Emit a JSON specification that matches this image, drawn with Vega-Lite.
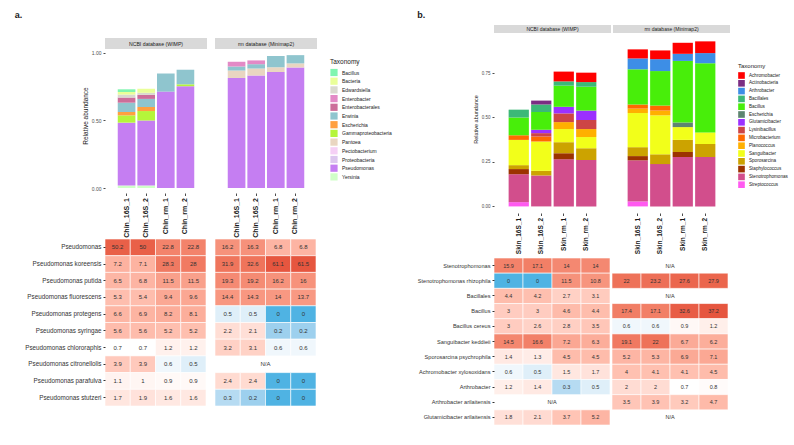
{
 "$schema": "https://vega.github.io/schema/vega-lite/v6.json",
 "padding": {"left": 14, "top": 11, "right": 5, "bottom": 5},
 "background": "white",
 "config": {"font": "Liberation Sans", "view": {"stroke": null}},
 "datasets": {
  "barsA": [
   {"db":"NCBI","sample":"Chin_16S_1","taxon":"Yersinia","value":0.018},
   {"db":"NCBI","sample":"Chin_16S_1","taxon":"Pseudomonas","value":0.466},
   {"db":"NCBI","sample":"Chin_16S_1","taxon":"Gammaproteobacteria","value":0.054},
   {"db":"NCBI","sample":"Chin_16S_1","taxon":"Escherichia","value":0.025},
   {"db":"NCBI","sample":"Chin_16S_1","taxon":"Erwinia","value":0.069},
   {"db":"NCBI","sample":"Chin_16S_1","taxon":"Enterobacterales","value":0.038},
   {"db":"NCBI","sample":"Chin_16S_1","taxon":"Edwardsiella","value":0.022},
   {"db":"NCBI","sample":"Chin_16S_1","taxon":"Bacteria","value":0.019},
   {"db":"NCBI","sample":"Chin_16S_1","taxon":"Bacillus","value":0.02},
   {"db":"NCBI","sample":"Chin_16S_2","taxon":"Yersinia","value":0.018},
   {"db":"NCBI","sample":"Chin_16S_2","taxon":"Pseudomonas","value":0.482},
   {"db":"NCBI","sample":"Chin_16S_2","taxon":"Gammaproteobacteria","value":0.07},
   {"db":"NCBI","sample":"Chin_16S_2","taxon":"Escherichia","value":0.03},
   {"db":"NCBI","sample":"Chin_16S_2","taxon":"Erwinia","value":0.06},
   {"db":"NCBI","sample":"Chin_16S_2","taxon":"Enterobacterales","value":0.03},
   {"db":"NCBI","sample":"Chin_16S_2","taxon":"Edwardsiella","value":0.015},
   {"db":"NCBI","sample":"Chin_16S_2","taxon":"Bacteria","value":0.03},
   {"db":"NCBI","sample":"Chin_rm_1","taxon":"Pseudomonas","value":0.714},
   {"db":"NCBI","sample":"Chin_rm_1","taxon":"Erwinia","value":0.134},
   {"db":"NCBI","sample":"Chin_rm_2","taxon":"Pseudomonas","value":0.754},
   {"db":"NCBI","sample":"Chin_rm_2","taxon":"Gammaproteobacteria","value":0.014},
   {"db":"NCBI","sample":"Chin_rm_2","taxon":"Erwinia","value":0.108},
   {"db":"rm","sample":"Chin_16S_1","taxon":"Pseudomonas","value":0.815},
   {"db":"rm","sample":"Chin_16S_1","taxon":"Pantoea","value":0.055},
   {"db":"rm","sample":"Chin_16S_1","taxon":"Erwinia","value":0.03},
   {"db":"rm","sample":"Chin_16S_1","taxon":"Enterobacter","value":0.035},
   {"db":"rm","sample":"Chin_16S_2","taxon":"Pseudomonas","value":0.833},
   {"db":"rm","sample":"Chin_16S_2","taxon":"Pantoea","value":0.052},
   {"db":"rm","sample":"Chin_16S_2","taxon":"Erwinia","value":0.032},
   {"db":"rm","sample":"Chin_16S_2","taxon":"Enterobacter","value":0.028},
   {"db":"rm","sample":"Chin_rm_1","taxon":"Pseudomonas","value":0.86},
   {"db":"rm","sample":"Chin_rm_1","taxon":"Pantoea","value":0.035},
   {"db":"rm","sample":"Chin_rm_1","taxon":"Erwinia","value":0.082},
   {"db":"rm","sample":"Chin_rm_2","taxon":"Pseudomonas","value":0.893},
   {"db":"rm","sample":"Chin_rm_2","taxon":"Pantoea","value":0.03},
   {"db":"rm","sample":"Chin_rm_2","taxon":"Erwinia","value":0.061}
  ],
  "barsB": [
   {"db":"NCBI","sample":"Skin_16S_1","taxon":"Streptococcus","value":0.024},
   {"db":"NCBI","sample":"Skin_16S_1","taxon":"Stenotrophomonas","value":0.157},
   {"db":"NCBI","sample":"Skin_16S_1","taxon":"Staphylococcus","value":0.029},
   {"db":"NCBI","sample":"Skin_16S_1","taxon":"Sporosarcina","value":0.022},
   {"db":"NCBI","sample":"Skin_16S_1","taxon":"Sanguibacter","value":0.142},
   {"db":"NCBI","sample":"Skin_16S_1","taxon":"Microbacterium","value":0.026},
   {"db":"NCBI","sample":"Skin_16S_1","taxon":"Bacillus","value":0.1},
   {"db":"NCBI","sample":"Skin_16S_1","taxon":"Bacillales","value":0.044},
   {"db":"NCBI","sample":"Skin_16S_2","taxon":"Stenotrophomonas","value":0.174},
   {"db":"NCBI","sample":"Skin_16S_2","taxon":"Sporosarcina","value":0.026},
   {"db":"NCBI","sample":"Skin_16S_2","taxon":"Sanguibacter","value":0.165},
   {"db":"NCBI","sample":"Skin_16S_2","taxon":"Microbacterium","value":0.028},
   {"db":"NCBI","sample":"Skin_16S_2","taxon":"Lysinibacillus","value":0.019},
   {"db":"NCBI","sample":"Skin_16S_2","taxon":"Glutamicibacter","value":0.019},
   {"db":"NCBI","sample":"Skin_16S_2","taxon":"Bacillus","value":0.1},
   {"db":"NCBI","sample":"Skin_16S_2","taxon":"Bacillales","value":0.042},
   {"db":"NCBI","sample":"Skin_16S_2","taxon":"Actinobacteria","value":0.022},
   {"db":"NCBI","sample":"Skin_rm_1","taxon":"Stenotrophomonas","value":0.265},
   {"db":"NCBI","sample":"Skin_rm_1","taxon":"Staphylococcus","value":0.034},
   {"db":"NCBI","sample":"Skin_rm_1","taxon":"Sporosarcina","value":0.062},
   {"db":"NCBI","sample":"Skin_rm_1","taxon":"Sanguibacter","value":0.074},
   {"db":"NCBI","sample":"Skin_rm_1","taxon":"Planococcus","value":0.039},
   {"db":"NCBI","sample":"Skin_rm_1","taxon":"Lysinibacillus","value":0.049},
   {"db":"NCBI","sample":"Skin_rm_1","taxon":"Glutamicibacter","value":0.037},
   {"db":"NCBI","sample":"Skin_rm_1","taxon":"Bacillus","value":0.119},
   {"db":"NCBI","sample":"Skin_rm_1","taxon":"Bacillales","value":0.024},
   {"db":"NCBI","sample":"Skin_rm_1","taxon":"Achromobacter","value":0.055},
   {"db":"NCBI","sample":"Skin_rm_2","taxon":"Stenotrophomonas","value":0.261},
   {"db":"NCBI","sample":"Skin_rm_2","taxon":"Sporosarcina","value":0.066},
   {"db":"NCBI","sample":"Skin_rm_2","taxon":"Sanguibacter","value":0.063},
   {"db":"NCBI","sample":"Skin_rm_2","taxon":"Planococcus","value":0.045},
   {"db":"NCBI","sample":"Skin_rm_2","taxon":"Lysinibacillus","value":0.051},
   {"db":"NCBI","sample":"Skin_rm_2","taxon":"Glutamicibacter","value":0.053},
   {"db":"NCBI","sample":"Skin_rm_2","taxon":"Bacillus","value":0.134},
   {"db":"NCBI","sample":"Skin_rm_2","taxon":"Bacillales","value":0.026},
   {"db":"NCBI","sample":"Skin_rm_2","taxon":"Achromobacter","value":0.053},
   {"db":"rm","sample":"Skin_16S_1","taxon":"Streptococcus","value":0.028},
   {"db":"rm","sample":"Skin_16S_1","taxon":"Stenotrophomonas","value":0.231},
   {"db":"rm","sample":"Skin_16S_1","taxon":"Staphylococcus","value":0.024},
   {"db":"rm","sample":"Skin_16S_1","taxon":"Sporosarcina","value":0.05},
   {"db":"rm","sample":"Skin_16S_1","taxon":"Sanguibacter","value":0.192},
   {"db":"rm","sample":"Skin_16S_1","taxon":"Planococcus","value":0.025},
   {"db":"rm","sample":"Skin_16S_1","taxon":"Microbacterium","value":0.023},
   {"db":"rm","sample":"Skin_16S_1","taxon":"Bacillus","value":0.198},
   {"db":"rm","sample":"Skin_16S_1","taxon":"Arthrobacter","value":0.061},
   {"db":"rm","sample":"Skin_16S_1","taxon":"Achromobacter","value":0.051},
   {"db":"rm","sample":"Skin_16S_2","taxon":"Stenotrophomonas","value":0.238},
   {"db":"rm","sample":"Skin_16S_2","taxon":"Sporosarcina","value":0.055},
   {"db":"rm","sample":"Skin_16S_2","taxon":"Sanguibacter","value":0.219},
   {"db":"rm","sample":"Skin_16S_2","taxon":"Planococcus","value":0.027},
   {"db":"rm","sample":"Skin_16S_2","taxon":"Microbacterium","value":0.028},
   {"db":"rm","sample":"Skin_16S_2","taxon":"Bacillus","value":0.194},
   {"db":"rm","sample":"Skin_16S_2","taxon":"Arthrobacter","value":0.067},
   {"db":"rm","sample":"Skin_16S_2","taxon":"Achromobacter","value":0.049},
   {"db":"rm","sample":"Skin_rm_1","taxon":"Stenotrophomonas","value":0.278},
   {"db":"rm","sample":"Skin_rm_1","taxon":"Staphylococcus","value":0.028},
   {"db":"rm","sample":"Skin_rm_1","taxon":"Sporosarcina","value":0.068},
   {"db":"rm","sample":"Skin_rm_1","taxon":"Sanguibacter","value":0.072},
   {"db":"rm","sample":"Skin_rm_1","taxon":"Escherichia","value":0.026},
   {"db":"rm","sample":"Skin_rm_1","taxon":"Bacillus","value":0.346},
   {"db":"rm","sample":"Skin_rm_1","taxon":"Arthrobacter","value":0.04},
   {"db":"rm","sample":"Skin_rm_1","taxon":"Achromobacter","value":0.062},
   {"db":"rm","sample":"Skin_rm_2","taxon":"Stenotrophomonas","value":0.278},
   {"db":"rm","sample":"Skin_rm_2","taxon":"Sporosarcina","value":0.073},
   {"db":"rm","sample":"Skin_rm_2","taxon":"Sanguibacter","value":0.065},
   {"db":"rm","sample":"Skin_rm_2","taxon":"Bacillus","value":0.389},
   {"db":"rm","sample":"Skin_rm_2","taxon":"Arthrobacter","value":0.057},
   {"db":"rm","sample":"Skin_rm_2","taxon":"Achromobacter","value":0.066}
  ],
  "heatA": [
   {"db":"NCBI","sample":"Chin_16S_1","species":"Pseudomonas","pct":50.2},
   {"db":"NCBI","sample":"Chin_16S_2","species":"Pseudomonas","pct":50},
   {"db":"NCBI","sample":"Chin_rm_1","species":"Pseudomonas","pct":22.8},
   {"db":"NCBI","sample":"Chin_rm_2","species":"Pseudomonas","pct":22.8},
   {"db":"rm","sample":"Chin_16S_1","species":"Pseudomonas","pct":16.2},
   {"db":"rm","sample":"Chin_16S_2","species":"Pseudomonas","pct":16.3},
   {"db":"rm","sample":"Chin_rm_1","species":"Pseudomonas","pct":6.8},
   {"db":"rm","sample":"Chin_rm_2","species":"Pseudomonas","pct":6.8},
   {"db":"NCBI","sample":"Chin_16S_1","species":"Pseudomonas koreensis","pct":7.2},
   {"db":"NCBI","sample":"Chin_16S_2","species":"Pseudomonas koreensis","pct":7.1},
   {"db":"NCBI","sample":"Chin_rm_1","species":"Pseudomonas koreensis","pct":28.3},
   {"db":"NCBI","sample":"Chin_rm_2","species":"Pseudomonas koreensis","pct":28},
   {"db":"rm","sample":"Chin_16S_1","species":"Pseudomonas koreensis","pct":31.9},
   {"db":"rm","sample":"Chin_16S_2","species":"Pseudomonas koreensis","pct":32.6},
   {"db":"rm","sample":"Chin_rm_1","species":"Pseudomonas koreensis","pct":61.1},
   {"db":"rm","sample":"Chin_rm_2","species":"Pseudomonas koreensis","pct":61.5},
   {"db":"NCBI","sample":"Chin_16S_1","species":"Pseudomonas putida","pct":6.5},
   {"db":"NCBI","sample":"Chin_16S_2","species":"Pseudomonas putida","pct":6.8},
   {"db":"NCBI","sample":"Chin_rm_1","species":"Pseudomonas putida","pct":11.5},
   {"db":"NCBI","sample":"Chin_rm_2","species":"Pseudomonas putida","pct":11.5},
   {"db":"rm","sample":"Chin_16S_1","species":"Pseudomonas putida","pct":19.3},
   {"db":"rm","sample":"Chin_16S_2","species":"Pseudomonas putida","pct":19.2},
   {"db":"rm","sample":"Chin_rm_1","species":"Pseudomonas putida","pct":16.2},
   {"db":"rm","sample":"Chin_rm_2","species":"Pseudomonas putida","pct":16},
   {"db":"NCBI","sample":"Chin_16S_1","species":"Pseudomonas fluorescens","pct":5.3},
   {"db":"NCBI","sample":"Chin_16S_2","species":"Pseudomonas fluorescens","pct":5.4},
   {"db":"NCBI","sample":"Chin_rm_1","species":"Pseudomonas fluorescens","pct":9.4},
   {"db":"NCBI","sample":"Chin_rm_2","species":"Pseudomonas fluorescens","pct":9.6},
   {"db":"rm","sample":"Chin_16S_1","species":"Pseudomonas fluorescens","pct":14.4},
   {"db":"rm","sample":"Chin_16S_2","species":"Pseudomonas fluorescens","pct":14.3},
   {"db":"rm","sample":"Chin_rm_1","species":"Pseudomonas fluorescens","pct":14},
   {"db":"rm","sample":"Chin_rm_2","species":"Pseudomonas fluorescens","pct":13.7},
   {"db":"NCBI","sample":"Chin_16S_1","species":"Pseudomonas protegens","pct":6.6},
   {"db":"NCBI","sample":"Chin_16S_2","species":"Pseudomonas protegens","pct":6.9},
   {"db":"NCBI","sample":"Chin_rm_1","species":"Pseudomonas protegens","pct":8.2},
   {"db":"NCBI","sample":"Chin_rm_2","species":"Pseudomonas protegens","pct":8.1},
   {"db":"rm","sample":"Chin_16S_1","species":"Pseudomonas protegens","pct":0.5},
   {"db":"rm","sample":"Chin_16S_2","species":"Pseudomonas protegens","pct":0.5},
   {"db":"rm","sample":"Chin_rm_1","species":"Pseudomonas protegens","pct":0},
   {"db":"rm","sample":"Chin_rm_2","species":"Pseudomonas protegens","pct":0},
   {"db":"NCBI","sample":"Chin_16S_1","species":"Pseudomonas syringae","pct":5.6},
   {"db":"NCBI","sample":"Chin_16S_2","species":"Pseudomonas syringae","pct":5.6},
   {"db":"NCBI","sample":"Chin_rm_1","species":"Pseudomonas syringae","pct":5.2},
   {"db":"NCBI","sample":"Chin_rm_2","species":"Pseudomonas syringae","pct":5.2},
   {"db":"rm","sample":"Chin_16S_1","species":"Pseudomonas syringae","pct":2.2},
   {"db":"rm","sample":"Chin_16S_2","species":"Pseudomonas syringae","pct":2.1},
   {"db":"rm","sample":"Chin_rm_1","species":"Pseudomonas syringae","pct":0.2},
   {"db":"rm","sample":"Chin_rm_2","species":"Pseudomonas syringae","pct":0.2},
   {"db":"NCBI","sample":"Chin_16S_1","species":"Pseudomonas chlororaphis","pct":0.7},
   {"db":"NCBI","sample":"Chin_16S_2","species":"Pseudomonas chlororaphis","pct":0.7},
   {"db":"NCBI","sample":"Chin_rm_1","species":"Pseudomonas chlororaphis","pct":1.2},
   {"db":"NCBI","sample":"Chin_rm_2","species":"Pseudomonas chlororaphis","pct":1.2},
   {"db":"rm","sample":"Chin_16S_1","species":"Pseudomonas chlororaphis","pct":3.2},
   {"db":"rm","sample":"Chin_16S_2","species":"Pseudomonas chlororaphis","pct":3.1},
   {"db":"rm","sample":"Chin_rm_1","species":"Pseudomonas chlororaphis","pct":0.6},
   {"db":"rm","sample":"Chin_rm_2","species":"Pseudomonas chlororaphis","pct":0.6},
   {"db":"NCBI","sample":"Chin_16S_1","species":"Pseudomonas citronellolis","pct":3.9},
   {"db":"NCBI","sample":"Chin_16S_2","species":"Pseudomonas citronellolis","pct":3.9},
   {"db":"NCBI","sample":"Chin_rm_1","species":"Pseudomonas citronellolis","pct":0.6},
   {"db":"NCBI","sample":"Chin_rm_2","species":"Pseudomonas citronellolis","pct":0.5},
   {"db":"NCBI","sample":"Chin_16S_1","species":"Pseudomonas parafulva","pct":1.1},
   {"db":"NCBI","sample":"Chin_16S_2","species":"Pseudomonas parafulva","pct":1},
   {"db":"NCBI","sample":"Chin_rm_1","species":"Pseudomonas parafulva","pct":0.9},
   {"db":"NCBI","sample":"Chin_rm_2","species":"Pseudomonas parafulva","pct":0.9},
   {"db":"rm","sample":"Chin_16S_1","species":"Pseudomonas parafulva","pct":2.4},
   {"db":"rm","sample":"Chin_16S_2","species":"Pseudomonas parafulva","pct":2.4},
   {"db":"rm","sample":"Chin_rm_1","species":"Pseudomonas parafulva","pct":0},
   {"db":"rm","sample":"Chin_rm_2","species":"Pseudomonas parafulva","pct":0},
   {"db":"NCBI","sample":"Chin_16S_1","species":"Pseudomonas stutzeri","pct":1.7},
   {"db":"NCBI","sample":"Chin_16S_2","species":"Pseudomonas stutzeri","pct":1.9},
   {"db":"NCBI","sample":"Chin_rm_1","species":"Pseudomonas stutzeri","pct":1.6},
   {"db":"NCBI","sample":"Chin_rm_2","species":"Pseudomonas stutzeri","pct":1.6},
   {"db":"rm","sample":"Chin_16S_1","species":"Pseudomonas stutzeri","pct":0.3},
   {"db":"rm","sample":"Chin_16S_2","species":"Pseudomonas stutzeri","pct":0.2},
   {"db":"rm","sample":"Chin_rm_1","species":"Pseudomonas stutzeri","pct":0},
   {"db":"rm","sample":"Chin_rm_2","species":"Pseudomonas stutzeri","pct":0}
  ],
  "heatB": [
   {"db":"NCBI","sample":"Skin_16S_1","species":"Stenotrophomonas","pct":15.9},
   {"db":"NCBI","sample":"Skin_16S_2","species":"Stenotrophomonas","pct":17.1},
   {"db":"NCBI","sample":"Skin_rm_1","species":"Stenotrophomonas","pct":14},
   {"db":"NCBI","sample":"Skin_rm_2","species":"Stenotrophomonas","pct":14},
   {"db":"NCBI","sample":"Skin_16S_1","species":"Stenotrophomonas rhizophila","pct":0},
   {"db":"NCBI","sample":"Skin_16S_2","species":"Stenotrophomonas rhizophila","pct":0},
   {"db":"NCBI","sample":"Skin_rm_1","species":"Stenotrophomonas rhizophila","pct":11.5},
   {"db":"NCBI","sample":"Skin_rm_2","species":"Stenotrophomonas rhizophila","pct":10.8},
   {"db":"rm","sample":"Skin_16S_1","species":"Stenotrophomonas rhizophila","pct":22},
   {"db":"rm","sample":"Skin_16S_2","species":"Stenotrophomonas rhizophila","pct":23.2},
   {"db":"rm","sample":"Skin_rm_1","species":"Stenotrophomonas rhizophila","pct":27.6},
   {"db":"rm","sample":"Skin_rm_2","species":"Stenotrophomonas rhizophila","pct":27.9},
   {"db":"NCBI","sample":"Skin_16S_1","species":"Bacillales","pct":4.4},
   {"db":"NCBI","sample":"Skin_16S_2","species":"Bacillales","pct":4.2},
   {"db":"NCBI","sample":"Skin_rm_1","species":"Bacillales","pct":2.7},
   {"db":"NCBI","sample":"Skin_rm_2","species":"Bacillales","pct":3.1},
   {"db":"NCBI","sample":"Skin_16S_1","species":"Bacillus","pct":3},
   {"db":"NCBI","sample":"Skin_16S_2","species":"Bacillus","pct":3},
   {"db":"NCBI","sample":"Skin_rm_1","species":"Bacillus","pct":4.6},
   {"db":"NCBI","sample":"Skin_rm_2","species":"Bacillus","pct":4.4},
   {"db":"rm","sample":"Skin_16S_1","species":"Bacillus","pct":17.4},
   {"db":"rm","sample":"Skin_16S_2","species":"Bacillus","pct":17.1},
   {"db":"rm","sample":"Skin_rm_1","species":"Bacillus","pct":32.6},
   {"db":"rm","sample":"Skin_rm_2","species":"Bacillus","pct":37.2},
   {"db":"NCBI","sample":"Skin_16S_1","species":"Bacillus cereus","pct":3},
   {"db":"NCBI","sample":"Skin_16S_2","species":"Bacillus cereus","pct":2.6},
   {"db":"NCBI","sample":"Skin_rm_1","species":"Bacillus cereus","pct":2.8},
   {"db":"NCBI","sample":"Skin_rm_2","species":"Bacillus cereus","pct":3.5},
   {"db":"rm","sample":"Skin_16S_1","species":"Bacillus cereus","pct":0.6},
   {"db":"rm","sample":"Skin_16S_2","species":"Bacillus cereus","pct":0.6},
   {"db":"rm","sample":"Skin_rm_1","species":"Bacillus cereus","pct":0.9},
   {"db":"rm","sample":"Skin_rm_2","species":"Bacillus cereus","pct":1.2},
   {"db":"NCBI","sample":"Skin_16S_1","species":"Sanguibacter keddieii","pct":14.5},
   {"db":"NCBI","sample":"Skin_16S_2","species":"Sanguibacter keddieii","pct":16.6},
   {"db":"NCBI","sample":"Skin_rm_1","species":"Sanguibacter keddieii","pct":7.2},
   {"db":"NCBI","sample":"Skin_rm_2","species":"Sanguibacter keddieii","pct":6.3},
   {"db":"rm","sample":"Skin_16S_1","species":"Sanguibacter keddieii","pct":19.1},
   {"db":"rm","sample":"Skin_16S_2","species":"Sanguibacter keddieii","pct":22},
   {"db":"rm","sample":"Skin_rm_1","species":"Sanguibacter keddieii","pct":6.7},
   {"db":"rm","sample":"Skin_rm_2","species":"Sanguibacter keddieii","pct":6.2},
   {"db":"NCBI","sample":"Skin_16S_1","species":"Sporosarcina psychrophila","pct":1.4},
   {"db":"NCBI","sample":"Skin_16S_2","species":"Sporosarcina psychrophila","pct":1.3},
   {"db":"NCBI","sample":"Skin_rm_1","species":"Sporosarcina psychrophila","pct":4.5},
   {"db":"NCBI","sample":"Skin_rm_2","species":"Sporosarcina psychrophila","pct":4.5},
   {"db":"rm","sample":"Skin_16S_1","species":"Sporosarcina psychrophila","pct":5.2},
   {"db":"rm","sample":"Skin_16S_2","species":"Sporosarcina psychrophila","pct":5.3},
   {"db":"rm","sample":"Skin_rm_1","species":"Sporosarcina psychrophila","pct":6.9},
   {"db":"rm","sample":"Skin_rm_2","species":"Sporosarcina psychrophila","pct":7.1},
   {"db":"NCBI","sample":"Skin_16S_1","species":"Achromobacter xylosoxidans","pct":0.6},
   {"db":"NCBI","sample":"Skin_16S_2","species":"Achromobacter xylosoxidans","pct":0.5},
   {"db":"NCBI","sample":"Skin_rm_1","species":"Achromobacter xylosoxidans","pct":1.5},
   {"db":"NCBI","sample":"Skin_rm_2","species":"Achromobacter xylosoxidans","pct":1.7},
   {"db":"rm","sample":"Skin_16S_1","species":"Achromobacter xylosoxidans","pct":4},
   {"db":"rm","sample":"Skin_16S_2","species":"Achromobacter xylosoxidans","pct":4.1},
   {"db":"rm","sample":"Skin_rm_1","species":"Achromobacter xylosoxidans","pct":4.1},
   {"db":"rm","sample":"Skin_rm_2","species":"Achromobacter xylosoxidans","pct":4.5},
   {"db":"NCBI","sample":"Skin_16S_1","species":"Arthrobacter","pct":1.2},
   {"db":"NCBI","sample":"Skin_16S_2","species":"Arthrobacter","pct":1.4},
   {"db":"NCBI","sample":"Skin_rm_1","species":"Arthrobacter","pct":0.3},
   {"db":"NCBI","sample":"Skin_rm_2","species":"Arthrobacter","pct":0.5},
   {"db":"rm","sample":"Skin_16S_1","species":"Arthrobacter","pct":2},
   {"db":"rm","sample":"Skin_16S_2","species":"Arthrobacter","pct":2},
   {"db":"rm","sample":"Skin_rm_1","species":"Arthrobacter","pct":0.7},
   {"db":"rm","sample":"Skin_rm_2","species":"Arthrobacter","pct":0.8},
   {"db":"rm","sample":"Skin_16S_1","species":"Arthrobacter arilaitensis","pct":3.5},
   {"db":"rm","sample":"Skin_16S_2","species":"Arthrobacter arilaitensis","pct":3.9},
   {"db":"rm","sample":"Skin_rm_1","species":"Arthrobacter arilaitensis","pct":3.2},
   {"db":"rm","sample":"Skin_rm_2","species":"Arthrobacter arilaitensis","pct":4.7},
   {"db":"NCBI","sample":"Skin_16S_1","species":"Glutamicibacter arilaitensis","pct":1.8},
   {"db":"NCBI","sample":"Skin_16S_2","species":"Glutamicibacter arilaitensis","pct":2.1},
   {"db":"NCBI","sample":"Skin_rm_1","species":"Glutamicibacter arilaitensis","pct":3.7},
   {"db":"NCBI","sample":"Skin_rm_2","species":"Glutamicibacter arilaitensis","pct":5.2}
  ],
  "naA": [
   {"db":"rm","species":"Pseudomonas citronellolis","note":"N/A"}
  ],
  "naB": [
   {"db":"rm","species":"Stenotrophomonas","note":"N/A"},
   {"db":"rm","species":"Bacillales","note":"N/A"},
   {"db":"NCBI","species":"Arthrobacter arilaitensis","note":"N/A"},
   {"db":"rm","species":"Glutamicibacter arilaitensis","note":"N/A"}
  ]
 },
 "spacing": 25,
 "resolve": {"scale": {"color": "independent", "fill": "independent"}},
 "hconcat": [
  {
   "title": {"text": "a.", "anchor": "start", "fontSize": 9, "fontWeight": "bold", "dx": -10, "offset": 5, "color": "#1A1A1A"},
   "spacing": 0,
   "resolve": {"scale": {"color": "independent", "fill": "independent"}},
   "vconcat": [
    {"width": 5, "height": 13, "data": {"values": []}, "mark": "rect", "encoding": {}},
    {
     "hconcat": [
      {
       "width": 102, "height": 155,
       "layer": [
        {
         "data": {"name": "barsA"}, "transform": [{"filter": "datum.db === 'NCBI'"}],
         "mark": {"type": "bar"},
         "encoding": {
          "x": {"field": "sample", "type": "nominal", "scale": {"domain": ["Chin_16S_1","Chin_16S_2","Chin_rm_1","Chin_rm_2"], "paddingInner": 0.1, "paddingOuter": 0.65},
                "axis": {"title": null, "labelAngle": -90, "labelFontSize": 7, "labelFontWeight": "bold", "labelColor": "#1A1A1A", "tickColor": "#4D4D4D", "tickSize": 2.5, "domain": false, "grid": true, "gridColor": "white", "gridWidth": 1, "bandPosition": 0.5, "labelPadding": 2}},
          "y": {"field": "value", "type": "quantitative", "stack": "zero", "scale": {"domain": [-0.037, 1.111], "nice": false, "zero": false},
                "axis": {"title": "Relative abundance", "titleFontSize": 6.5, "titleFontWeight": "normal", "titleColor": "#1A1A1A", "titlePadding": 3, "values": [0, 0.25, 0.5, 0.75, 1], "format": ".2f", "labelFontSize": 5, "labelColor": "#4D4D4D", "tickColor": "#4D4D4D", "tickSize": 2, "domain": false, "grid": true, "gridColor": "white", "gridWidth": 1}},
          "color": {"field": "taxon", "type": "nominal",
                    "scale": {"domain": ["Bacillus","Bacteria","Edwardsiella","Enterobacter","Enterobacterales","Erwinia","Escherichia","Gammaproteobacteria","Pantoea","Pectobacterium","Proteobacteria","Pseudomonas","Yersinia"],
                              "range": ["#80F5B0","#EAFF99","#D9D9CF","#E38AC6","#CC6E9A","#8FC5CE","#FFA040","#B5F53A","#E9D6C1","#F5D0F5","#DCC6EE","#C57EF2","#D0FFC8"]},
                    "legend": {"orient": "none", "legendX": 225, "legendY": 21, "title": "Taxonomy", "titleFontSize": 6.5, "titleFontWeight": "normal", "titleColor": "#1A1A1A", "titlePadding": 3, "labelFontSize": 5, "labelColor": "#1A1A1A", "symbolType": "square", "symbolSize": 52, "symbolStrokeWidth": 0, "rowPadding": 0.7, "labelOffset": 4}},
          "order": {"field": "taxon", "sort": "descending"}
         }
        },
        {"data": {"values": [{"label": "NCBI database (WIMP)"}]}, "mark": {"type": "rect", "color": "#D9D9D9"},
         "encoding": {"y": {"datum": 1.030, "type": "quantitative"}, "y2": {"datum": 1.111}}},
        {"data": {"values": [{"label": "NCBI database (WIMP)"}]}, "mark": {"type": "text", "fontSize": 5.2, "color": "#1A1A1A"},
         "encoding": {"y": {"datum": 1.07, "type": "quantitative"}, "text": {"field": "label"}}}
       ]
      },
      {
       "width": 102, "height": 155,
       "layer": [
        {
         "data": {"name": "barsA"}, "transform": [{"filter": "datum.db === 'rm'"}],
         "mark": {"type": "bar"},
         "encoding": {
          "x": {"field": "sample", "type": "nominal", "scale": {"domain": ["Chin_16S_1","Chin_16S_2","Chin_rm_1","Chin_rm_2"], "paddingInner": 0.1, "paddingOuter": 0.65},
                "axis": {"title": null, "labelAngle": -90, "labelFontSize": 7, "labelFontWeight": "bold", "labelColor": "#1A1A1A", "tickColor": "#4D4D4D", "tickSize": 2.5, "domain": false, "grid": true, "gridColor": "white", "gridWidth": 1, "bandPosition": 0.5, "labelPadding": 2}},
          "y": {"field": "value", "type": "quantitative", "stack": "zero", "scale": {"domain": [-0.037, 1.111], "nice": false, "zero": false},
                "axis": {"title": null, "values": [0, 0.25, 0.5, 0.75, 1], "labels": false, "ticks": false, "domain": false, "grid": true, "gridColor": "white", "gridWidth": 1}},
          "color": {"field": "taxon", "type": "nominal",
                    "scale": {"domain": ["Bacillus","Bacteria","Edwardsiella","Enterobacter","Enterobacterales","Erwinia","Escherichia","Gammaproteobacteria","Pantoea","Pectobacterium","Proteobacteria","Pseudomonas","Yersinia"],
                              "range": ["#80F5B0","#EAFF99","#D9D9CF","#E38AC6","#CC6E9A","#8FC5CE","#FFA040","#B5F53A","#E9D6C1","#F5D0F5","#DCC6EE","#C57EF2","#D0FFC8"]},
                    "legend": {"orient": "none", "legendX": 225, "legendY": 21, "title": "Taxonomy", "titleFontSize": 6.5, "titleFontWeight": "normal", "titleColor": "#1A1A1A", "titlePadding": 3, "labelFontSize": 5, "labelColor": "#1A1A1A", "symbolType": "square", "symbolSize": 52, "symbolStrokeWidth": 0, "rowPadding": 0.7, "labelOffset": 4}},
          "order": {"field": "taxon", "sort": "descending"}
         }
        },
        {"data": {"values": [{"label": "rm database (Minimap2)"}]}, "mark": {"type": "rect", "color": "#D9D9D9"},
         "encoding": {"y": {"datum": 1.030, "type": "quantitative"}, "y2": {"datum": 1.111}}},
        {"data": {"values": [{"label": "rm database (Minimap2)"}]}, "mark": {"type": "text", "fontSize": 5.2, "color": "#1A1A1A"},
         "encoding": {"y": {"datum": 1.07, "type": "quantitative"}, "text": {"field": "label"}}}
       ]
      }
     ],
     "spacing": 8, "bounds": "flush"
    },
    {
     "hconcat": [
      {
       "width": 101, "height": 167,
       "layer": [
        {"data": {"name": "heatA"}, "transform": [{"filter": "datum.db === 'NCBI'"}],
         "mark": {"type": "rect", "stroke": "white", "strokeWidth": 0.6},
         "encoding": {
          "x": {"field": "sample", "type": "nominal", "scale": {"domain": ["Chin_16S_1","Chin_16S_2","Chin_rm_1","Chin_rm_2"], "padding": 0}, "axis": null},
          "y": {"field": "species", "type": "nominal", "scale": {"domain": ["Pseudomonas","Pseudomonas koreensis","Pseudomonas putida","Pseudomonas fluorescens","Pseudomonas protegens","Pseudomonas syringae","Pseudomonas chlororaphis","Pseudomonas citronellolis","Pseudomonas parafulva","Pseudomonas stutzeri"], "padding": 0},
                "axis": {"title": null, "labelFontSize": 6.3, "labelColor": "#333333", "tickColor": "#333333", "tickSize": 2, "domain": false, "labelPadding": 2}},
          "fill": {"field": "pct", "type": "quantitative", "scale": {"type": "symlog", "constant": 0.5, "domain": [0, 0.7, 61.5], "range": ["#4FB3E3", "#FFFFFF", "#E6563F"], "interpolate": "lab"}, "legend": null}
         }},
        {"data": {"name": "heatA"}, "transform": [{"filter": "datum.db === 'NCBI'"}],
         "mark": {"type": "text", "fontSize": 6, "color": "#333333"},
         "encoding": {
          "x": {"field": "sample", "type": "nominal"},
          "y": {"field": "species", "type": "nominal"},
          "text": {"field": "pct", "type": "nominal"}
         }}
       ]
      },
      {
       "width": 101, "height": 167,
       "layer": [
        {"data": {"name": "heatA"}, "transform": [{"filter": "datum.db === 'rm'"}],
         "mark": {"type": "rect", "stroke": "white", "strokeWidth": 0.6},
         "encoding": {
          "x": {"field": "sample", "type": "nominal", "scale": {"domain": ["Chin_16S_1","Chin_16S_2","Chin_rm_1","Chin_rm_2"], "padding": 0}, "axis": null},
          "y": {"field": "species", "type": "nominal", "scale": {"domain": ["Pseudomonas","Pseudomonas koreensis","Pseudomonas putida","Pseudomonas fluorescens","Pseudomonas protegens","Pseudomonas syringae","Pseudomonas chlororaphis","Pseudomonas citronellolis","Pseudomonas parafulva","Pseudomonas stutzeri"], "padding": 0}, "axis": null},
          "fill": {"field": "pct", "type": "quantitative", "scale": {"type": "symlog", "constant": 0.5, "domain": [0, 0.7, 61.5], "range": ["#4FB3E3", "#FFFFFF", "#E6563F"], "interpolate": "lab"}, "legend": null}
         }},
        {"data": {"name": "heatA"}, "transform": [{"filter": "datum.db === 'rm'"}],
         "mark": {"type": "text", "fontSize": 6, "color": "#333333"},
         "encoding": {
          "x": {"field": "sample", "type": "nominal"},
          "y": {"field": "species", "type": "nominal"},
          "text": {"field": "pct", "type": "nominal"}
         }},
        {"data": {"name": "naA"}, "transform": [{"filter": "datum.db === 'rm'"}],
         "mark": {"type": "text", "fontSize": 6, "color": "#333333"},
         "encoding": {
          "y": {"field": "species", "type": "nominal"},
          "text": {"field": "note"}
         }}
       ]
      }
     ],
     "spacing": 9, "bounds": "flush"
    }
   ]
  },
  {
   "title": {"text": "b.", "anchor": "start", "fontSize": 9, "fontWeight": "bold", "offset": 5, "color": "#1A1A1A"},
   "spacing": 3,
   "resolve": {"scale": {"color": "independent", "fill": "independent"}},
   "vconcat": [
    {
     "hconcat": [
      {
       "width": 117, "height": 188,
       "layer": [
        {
         "data": {"name": "barsB"}, "transform": [{"filter": "datum.db === 'NCBI'"}],
         "mark": {"type": "bar"},
         "encoding": {
          "x": {"field": "sample", "type": "nominal", "scale": {"domain": ["Skin_16S_1","Skin_16S_2","Skin_rm_1","Skin_rm_2"], "paddingInner": 0.1, "paddingOuter": 0.65},
                "axis": {"title": null, "labelAngle": -90, "labelFontSize": 6.5, "labelFontWeight": "bold", "labelColor": "#1A1A1A", "tickColor": "#4D4D4D", "tickSize": 2.5, "domain": false, "grid": true, "gridColor": "white", "gridWidth": 1, "bandPosition": 0.5, "labelPadding": 2}},
          "y": {"field": "value", "type": "quantitative", "stack": "zero", "scale": {"domain": [-0.037, 1.02], "nice": false, "zero": false},
                "axis": {"title": "Relative abundance", "titleFontSize": 5.5, "titleFontWeight": "normal", "titleColor": "#1A1A1A", "titlePadding": 3, "values": [0, 0.25, 0.5, 0.75], "format": ".2f", "labelFontSize": 4.5, "labelColor": "#4D4D4D", "tickColor": "#4D4D4D", "tickSize": 2, "domain": false, "grid": true, "gridColor": "white", "gridWidth": 1}},
          "color": {"field": "taxon", "type": "nominal",
                    "scale": {"domain": ["Achromobacter","Actinobacteria","Arthrobacter","Bacillales","Bacillus","Escherichia","Glutamicibacter","Lysinibacillus","Microbacterium","Planococcus","Sanguibacter","Sporosarcina","Staphylococcus","Stenotrophomonas","Streptococcus"],
                              "range": ["#FF0000","#7B2D83","#3D8EE6","#3CB878","#48EE0A","#5E8570","#9B30FF","#CD4545","#FF6A00","#FFB000","#F2FF1A","#CCA300","#9C3300","#D24E8C","#FF5AF0"]},
                    "legend": {"orient": "none", "legendX": 244, "legendY": 38, "title": "Taxonomy", "titleFontSize": 6, "titleFontWeight": "normal", "titleColor": "#1A1A1A", "titlePadding": 3, "labelFontSize": 4.6, "labelColor": "#1A1A1A", "symbolType": "square", "symbolSize": 44, "symbolStrokeWidth": 0, "rowPadding": 0.8, "labelOffset": 4}},
          "order": {"field": "taxon", "sort": "descending"}
         }
        },
        {"data": {"values": [{"label": "NCBI database (WIMP)"}]}, "mark": {"type": "rect", "color": "#D9D9D9"},
         "encoding": {"y": {"datum": 0.975, "type": "quantitative"}, "y2": {"datum": 1.02}}},
        {"data": {"values": [{"label": "NCBI database (WIMP)"}]}, "mark": {"type": "text", "fontSize": 5, "color": "#1A1A1A"},
         "encoding": {"y": {"datum": 0.9975, "type": "quantitative"}, "text": {"field": "label"}}}
       ]
      },
      {
       "width": 117, "height": 188,
       "layer": [
        {
         "data": {"name": "barsB"}, "transform": [{"filter": "datum.db === 'rm'"}],
         "mark": {"type": "bar"},
         "encoding": {
          "x": {"field": "sample", "type": "nominal", "scale": {"domain": ["Skin_16S_1","Skin_16S_2","Skin_rm_1","Skin_rm_2"], "paddingInner": 0.1, "paddingOuter": 0.65},
                "axis": {"title": null, "labelAngle": -90, "labelFontSize": 6.5, "labelFontWeight": "bold", "labelColor": "#1A1A1A", "tickColor": "#4D4D4D", "tickSize": 2.5, "domain": false, "grid": true, "gridColor": "white", "gridWidth": 1, "bandPosition": 0.5, "labelPadding": 2}},
          "y": {"field": "value", "type": "quantitative", "stack": "zero", "scale": {"domain": [-0.037, 1.02], "nice": false, "zero": false},
                "axis": {"title": null, "values": [0, 0.25, 0.5, 0.75], "labels": false, "ticks": false, "domain": false, "grid": true, "gridColor": "white", "gridWidth": 1}},
          "color": {"field": "taxon", "type": "nominal",
                    "scale": {"domain": ["Achromobacter","Actinobacteria","Arthrobacter","Bacillales","Bacillus","Escherichia","Glutamicibacter","Lysinibacillus","Microbacterium","Planococcus","Sanguibacter","Sporosarcina","Staphylococcus","Stenotrophomonas","Streptococcus"],
                              "range": ["#FF0000","#7B2D83","#3D8EE6","#3CB878","#48EE0A","#5E8570","#9B30FF","#CD4545","#FF6A00","#FFB000","#F2FF1A","#CCA300","#9C3300","#D24E8C","#FF5AF0"]},
                    "legend": {"orient": "none", "legendX": 244, "legendY": 38, "title": "Taxonomy", "titleFontSize": 6, "titleFontWeight": "normal", "titleColor": "#1A1A1A", "titlePadding": 3, "labelFontSize": 4.6, "labelColor": "#1A1A1A", "symbolType": "square", "symbolSize": 44, "symbolStrokeWidth": 0, "rowPadding": 0.8, "labelOffset": 4}},
          "order": {"field": "taxon", "sort": "descending"}
         }
        },
        {"data": {"values": [{"label": "rm database (Minimap2)"}]}, "mark": {"type": "rect", "color": "#D9D9D9"},
         "encoding": {"y": {"datum": 0.975, "type": "quantitative"}, "y2": {"datum": 1.02}}},
        {"data": {"values": [{"label": "rm database (Minimap2)"}]}, "mark": {"type": "text", "fontSize": 5, "color": "#1A1A1A"},
         "encoding": {"y": {"datum": 0.9975, "type": "quantitative"}, "text": {"field": "label"}}}
       ]
      }
     ],
     "spacing": 2, "bounds": "flush"
    },
    {
     "hconcat": [
      {
       "width": 116, "height": 167,
       "layer": [
        {"data": {"name": "heatB"}, "transform": [{"filter": "datum.db === 'NCBI'"}],
         "mark": {"type": "rect", "stroke": "white", "strokeWidth": 0.6},
         "encoding": {
          "x": {"field": "sample", "type": "nominal", "scale": {"domain": ["Skin_16S_1","Skin_16S_2","Skin_rm_1","Skin_rm_2"], "padding": 0}, "axis": null},
          "y": {"field": "species", "type": "nominal", "scale": {"domain": ["Stenotrophomonas","Stenotrophomonas rhizophila","Bacillales","Bacillus","Bacillus cereus","Sanguibacter keddieii","Sporosarcina psychrophila","Achromobacter xylosoxidans","Arthrobacter","Arthrobacter arilaitensis","Glutamicibacter arilaitensis"], "padding": 0},
                "axis": {"title": null, "labelFontSize": 5.6, "labelColor": "#333333", "tickColor": "#333333", "tickSize": 2, "domain": false, "labelPadding": 2}},
          "fill": {"field": "pct", "type": "quantitative", "scale": {"type": "symlog", "constant": 0.5, "domain": [0, 0.7, 37.2], "range": ["#4FB3E3", "#FFFFFF", "#E6563F"], "interpolate": "lab"}, "legend": null}
         }},
        {"data": {"name": "heatB"}, "transform": [{"filter": "datum.db === 'NCBI'"}],
         "mark": {"type": "text", "fontSize": 5.5, "color": "#333333"},
         "encoding": {
          "x": {"field": "sample", "type": "nominal"},
          "y": {"field": "species", "type": "nominal"},
          "text": {"field": "pct", "type": "nominal"}
         }},
        {"data": {"name": "naB"}, "transform": [{"filter": "datum.db === 'NCBI'"}],
         "mark": {"type": "text", "fontSize": 5.5, "color": "#333333"},
         "encoding": {
          "y": {"field": "species", "type": "nominal"},
          "text": {"field": "note"}
         }}
       ]
      },
      {
       "width": 116, "height": 167,
       "layer": [
        {"data": {"name": "heatB"}, "transform": [{"filter": "datum.db === 'rm'"}],
         "mark": {"type": "rect", "stroke": "white", "strokeWidth": 0.6},
         "encoding": {
          "x": {"field": "sample", "type": "nominal", "scale": {"domain": ["Skin_16S_1","Skin_16S_2","Skin_rm_1","Skin_rm_2"], "padding": 0}, "axis": null},
          "y": {"field": "species", "type": "nominal", "scale": {"domain": ["Stenotrophomonas","Stenotrophomonas rhizophila","Bacillales","Bacillus","Bacillus cereus","Sanguibacter keddieii","Sporosarcina psychrophila","Achromobacter xylosoxidans","Arthrobacter","Arthrobacter arilaitensis","Glutamicibacter arilaitensis"], "padding": 0}, "axis": null},
          "fill": {"field": "pct", "type": "quantitative", "scale": {"type": "symlog", "constant": 0.5, "domain": [0, 0.7, 37.2], "range": ["#4FB3E3", "#FFFFFF", "#E6563F"], "interpolate": "lab"}, "legend": null}
         }},
        {"data": {"name": "heatB"}, "transform": [{"filter": "datum.db === 'rm'"}],
         "mark": {"type": "text", "fontSize": 5.5, "color": "#333333"},
         "encoding": {
          "x": {"field": "sample", "type": "nominal"},
          "y": {"field": "species", "type": "nominal"},
          "text": {"field": "pct", "type": "nominal"}
         }},
        {"data": {"name": "naB"}, "transform": [{"filter": "datum.db === 'rm'"}],
         "mark": {"type": "text", "fontSize": 5.5, "color": "#333333"},
         "encoding": {
          "y": {"field": "species", "type": "nominal"},
          "text": {"field": "note"}
         }}
       ]
      }
     ],
     "spacing": 2, "bounds": "flush"
    }
   ]
  }
 ]
}
